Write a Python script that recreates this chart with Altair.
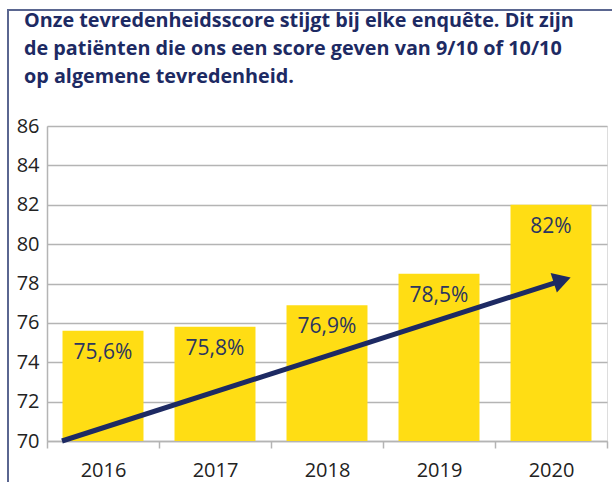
import altair as alt
import pandas as pd

years = ["2016", "2017", "2018", "2019", "2020"]
values = [75.6, 75.8, 76.9, 78.5, 82.0]
labels = ["75,6%", "75,8%", "76,9%", "78,5%", "82%"]

# trend arrow (x in band units: 0 = left edge of 2016 band, 5 = right edge of 2020 band)
arrow_x = [0.134, 4.57]
arrow_y = [70.0, 78.1]
head_x = [4.60]
head_y = [78.17]

title_lines = [
    "Onze tevredenheidsscore stijgt bij elke enquête. Dit zijn",
    "de patiënten die ons een score geven van 9/10 of 10/10",
    "op algemene tevredenheid.",
]
y_ticks = [70, 72, 74, 76, 78, 80, 82, 84, 86]

NAVY = "#1d2a63"
YELLOW = "#FFDD14"
GRID = "#b4b4b4"
FRAME = "#5a6690"
FONT = "Open Sans"

df = pd.DataFrame({"year": years, "value": values, "label": labels})
arrow_df = pd.DataFrame({"x": arrow_x, "y": arrow_y})
head_df = pd.DataFrame({"x": head_x, "y": head_y})

yscale = alt.Scale(domain=[70, 86], zero=False, nice=False)
xband = alt.Scale(paddingInner=0, paddingOuter=0)
yaxis = alt.Axis(values=y_ticks, labelFontSize=20, labelFont=FONT, labelColor="#222222",
                 ticks=False, labelPadding=8, labelOverlap=False,
                 domainColor=GRID, domainWidth=1.5, gridColor=GRID, gridWidth=1.5)

base = alt.Chart(df)

bars = base.mark_bar(color=YELLOW, width=alt.RelativeBandSize(0.723)).encode(
    x=alt.X("year:N", scale=xband, title=None,
            axis=alt.Axis(labelAngle=0, labelFontSize=20, labelFont=FONT, labelColor="#222222",
                          labelPadding=12, tickBand="extent", tickColor=GRID, tickSize=7,
                          tickWidth=1.5, domainColor=GRID, domainWidth=1.5, grid=False)),
    y=alt.Y("value:Q", scale=yscale, title=None, axis=yaxis),
    y2=alt.datum(70),
)

text = base.mark_text(dy=22, baseline="middle", fontSize=21, font=FONT, color="#2b3560").encode(
    x=alt.X("year:N", scale=xband, axis=None),
    y=alt.Y("value:Q", scale=yscale, title=None, axis=yaxis),
    text="label:N",
)

xq = alt.Scale(domain=[0, 5], nice=False, zero=False)
line = alt.Chart(arrow_df).mark_line(color=NAVY, strokeWidth=5).encode(
    x=alt.X("x:Q", scale=xq, axis=None),
    y=alt.Y("y:Q", scale=yscale, title=None, axis=yaxis),
)
head = alt.Chart(head_df).mark_point(shape="triangle-right", size=420, filled=True,
                                     color=NAVY, opacity=1, angle=342.3).encode(
    x=alt.X("x:Q", scale=xq, axis=None),
    y=alt.Y("y:Q", scale=yscale, title=None, axis=yaxis),
)

frame_left = alt.Chart(df).mark_rule(color=FRAME, strokeWidth=2).encode(
    x=alt.value(-39), y=alt.value(-116), y2=alt.value(400))
frame_top = alt.Chart(df).mark_rule(color=FRAME, strokeWidth=2).encode(
    x=alt.value(-40), x2=alt.value(700), y=alt.value(-116))

chart = alt.layer(bars, text, line, head, frame_left, frame_top).resolve_scale(
    x="independent"
).properties(
    width=560,
    height=315,
    padding={"left": 47, "top": 126, "right": 5, "bottom": 41},
    autosize=alt.AutoSizeParams(type="none"),
    title=alt.TitleParams(text=title_lines, anchor="start", font=FONT, fontSize=19.8,
                          fontWeight="bold", color=NAVY, lineHeight=28, dx=18, offset=-78),
).configure_view(stroke=None).configure(background="white")

chart.save("out.html", embed_options={"renderer": "svg", "actions": False})
